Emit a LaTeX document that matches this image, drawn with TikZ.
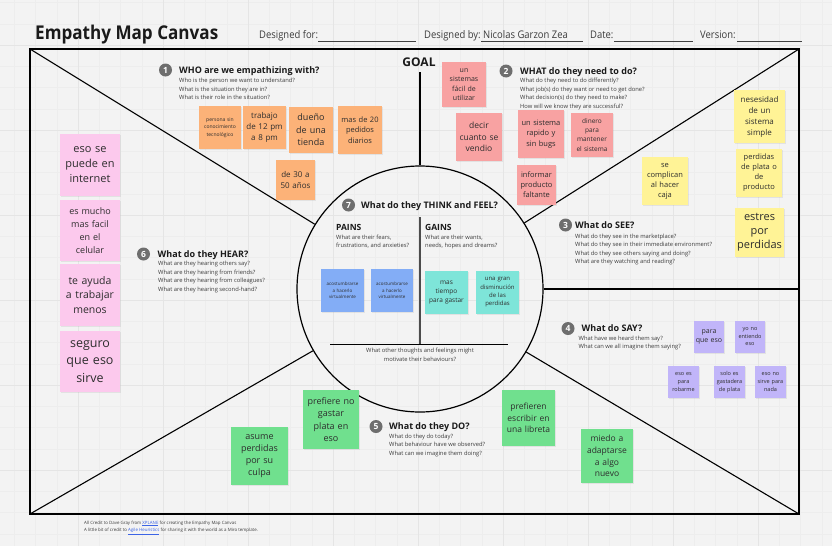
\documentclass[tikz,border=0pt]{standalone}
\usepackage{fontspec}
\setmainfont{Open Sans}
\newfontfamily\condfont[FakeStretch=0.9]{Open Sans}
\usetikzlibrary{shadows}
\definecolor{bgc}{RGB}{243,243,243}
\definecolor{gridminor}{RGB}{237,237,237}
\definecolor{gridmajor}{RGB}{229,229,229}
\definecolor{titlec}{RGB}{26,26,26}
\definecolor{subc}{RGB}{60,60,60}
\definecolor{notetext}{RGB}{45,45,45}
\definecolor{badgec}{RGB}{110,110,110}
\definecolor{linkc}{RGB}{60,100,230}
\definecolor{cOrange}{RGB}{252,178,120}
\definecolor{cRed}{RGB}{248,162,162}
\definecolor{cYellow}{RGB}{255,243,150}
\definecolor{cPurple}{RGB}{193,181,249}
\definecolor{cGreen}{RGB}{112,224,142}
\definecolor{cPink}{RGB}{252,201,237}
\definecolor{cBlue}{RGB}{131,173,246}
\definecolor{cTeal}{RGB}{126,229,217}
\begin{document}
\begin{tikzpicture}[x=1pt,y=-1pt,
  frameline/.style={line width=1.3pt, black},
  diag/.style={line width=1.1pt, black},
  minorgrid/.style={gridminor, line width=0.5pt},
  majorgrid/.style={gridmajor, line width=0.7pt},
  fieldline/.style={line width=0.7pt, black!75},
  headtitle/.style={anchor=base west, inner sep=0pt, text=titlec, font=\condfont\fontsize{19}{19}\selectfont\bfseries},
  headtext/.style={anchor=base west, inner sep=0pt, text=titlec!85, font=\condfont\fontsize{10.5}{10.5}\selectfont},
  goaltext/.style={inner sep=0pt, text=titlec, font=\fontsize{12}{12}\selectfont\bfseries},
  badge/.style={circle, fill=badgec, text=white, inner sep=0pt, minimum size=13pt, font=\fontsize{8.5}{8.5}\selectfont\bfseries},
  sectitle/.style={anchor=base west, inner sep=0pt, text=titlec, font=\fontsize{9}{9}\selectfont\bfseries},
  pgtitle/.style={anchor=base west, inner sep=0pt, text=titlec, font=\fontsize{8.5}{8.5}\selectfont\bfseries},
  secsub/.style={anchor=north west, inner sep=0pt, align=left, text=subc, font=\fontsize{5.8}{8.4}\selectfont},
  footer/.style={anchor=north west, inner sep=0pt, align=left, text=subc, font=\fontsize{4.4}{7.2}\selectfont},
  fs/.style 2 args={font=\fontsize{#1}{#2}\selectfont},
  sz/.style 2 args={minimum width=#1pt, minimum height=#2pt, text width=#1pt},
  sticky/.style={rectangle, inner sep=0pt, align=center, text=notetext,
     drop shadow={shadow xshift=0.6pt, shadow yshift=-0.9pt, opacity=0.14}},
  onote/.style={sticky, fill=cOrange},
  rnote/.style={sticky, fill=cRed},
  ynote/.style={sticky, fill=cYellow},
  pnote/.style={sticky, fill=cPurple},
  gnote/.style={sticky, fill=cGreen},
  knote/.style={sticky, fill=cPink},
  bnote/.style={sticky, fill=cBlue},
  tnote/.style={sticky, fill=cTeal}]
\useasboundingbox (0,0) rectangle (832,546);
\fill[bgc] (0,0) rectangle (832,546);
% grid
\foreach \i in {0,...,39} \draw[minorgrid] ({14.25+21.25*\i},0) -- ++(0,546);
\foreach \i in {0,...,25} \draw[minorgrid] (0,{2.5+21.25*\i}) -- ++(832,0);
\foreach \i in {0,...,9} \draw[majorgrid] ({78+85*\i},0) -- ++(0,546);
\foreach \i in {0,...,6} \draw[majorgrid] (0,{45+85*\i}) -- ++(832,0);

% header
\node[headtitle] (title) at (35,39) {Empathy Map Canvas};
\node[headtext] (dfor) at (259,38.5) {Designed for:};
\node[headtext] (dby) at (424,38.5) {Designed by:};
\node[headtext] (dname) at (483,38.5) {Nicolas Garzon Zea};
\node[headtext] (ddate) at (590,38.5) {Date:};
\node[headtext] (dver) at (700,38.5) {Version:};
\draw[fieldline] (318,41.5) -- (416,41.5);
\draw[fieldline] (481,41.5) -- (583,41.5);
\draw[fieldline] (614,41.5) -- (693,41.5);
\draw[fieldline] (737,41.5) -- (802,41.5);

% frame and structure
\coordinate (ctl) at (30,49);
\coordinate (ctr) at (799,49);
\coordinate (cbl) at (30,514);
\coordinate (cbr) at (799,514);
\coordinate (rmid) at (799,289);
\coordinate (goalfoot) at (420,72);
\draw[frameline] (ctl) rectangle (cbr);
\node[circle, draw, line width=1.2pt, inner sep=0pt, minimum size=246pt] (head) at (420,289) {};
\draw[diag] (head) -- (ctl);
\draw[diag] (head) -- (ctr);
\draw[diag] (head) -- (cbl);
\draw[diag] (head) -- (cbr);
\draw[diag] (head.east) -- (rmid);
\node[goaltext] (goal) at (419,62) {GOAL};
\draw[diag] (goalfoot) -- (head.north);

% inside head
\coordinate (vtop) at (420,217);
\coordinate (vbot) at (420,344);
\coordinate (hleft) at (330,344);
\coordinate (hright) at (508,344);
\draw[line width=1.4pt, black!70] (vtop) -- (vbot);
\draw[line width=1pt, black] (hleft) -- (hright);
\node[badge] (b7) at (348.5,205) {7};
\node[sectitle] (t7) at (361,208.2) {What do they THINK and FEEL?};
\node[pgtitle] (pains) at (336,230) {PAINS};
\node[secsub] (painsq) at (336,234.5) {What are their fears,\\frustrations, and anxieties?};
\node[pgtitle] (gains) at (425,230) {GAINS};
\node[secsub] (gainsq) at (425,234.5) {What are their wants,\\needs, hopes and dreams?};
\node[secsub, anchor=north, align=center] (other) at (420,348.2) {What other thoughts and feelings might\\motivate their behaviours?};

% section 1
\node[badge] (b1) at (165.5,70) {1};
\node[sectitle] (t1) at (179,73.2) {WHO are we empathizing with?};
\node[secsub] (s1) at (179,78.2) {Who is the person we want to understand?\\What is the situation they are in?\\What is their role in the situation?};
% section 2
\node[badge] (b2) at (506,71) {2};
\node[sectitle] (t2) at (520,74.2) {WHAT do they need to do?};
\node[secsub] (s2) at (520,78.2) {What do they need to do differently?\\What job(s) do they want or need to get done?\\What decision(s) do they need to make?\\How will we know they are successful?};
% section 3
\node[badge] (b3) at (565.5,225) {3};
\node[sectitle] (t3) at (575,228.2) {What do SEE?};
\node[secsub] (s3) at (575,233.9) {What do they see in the marketplace?\\What do they see in their immediate environment?\\What do they see others saying and doing?\\What are they watching and reading?};
% section 4
\node[badge] (b4) at (568,328.5) {4};
\node[sectitle] (t4) at (581.5,331.7) {What do SAY?};
\node[secsub] (s4) at (578.5,335.5) {What have we heard them say?\\What can we all imagine them saying?};
% section 5
\node[badge] (b5) at (376,426.5) {5};
\node[sectitle] (t5) at (389,429.7) {What do they DO?};
\node[secsub] (s5) at (389,433.9) {What do they do today?\\What behaviour have we observed?\\What can we imagine them doing?};
% section 6
\node[badge] (b6) at (143.5,254) {6};
\node[sectitle] (t6) at (157.5,257.2) {What do they HEAR?};
\node[secsub] (s6) at (158,261.2) {What are they hearing others say?\\What are they hearing from friends?\\What are they hearing from colleagues?\\What are they hearing second-hand?};

% orange notes
\node[onote, sz={42}{43}, fs={5}{7.5}] (n1) at (220,127.5) {persona sin\\conocimiento\\tecnológico};
\node[onote, sz={43}{43}, fs={8}{10.8}] (n2) at (264.5,127.5) {trabajo\\de 12 pm\\a 8 pm};
\node[onote, sz={44}{46}, fs={9}{12.5}] (n3) at (311,130) {dueño\\de una\\tienda};
\node[onote, sz={44}{48}, fs={7.5}{10.5}] (n4) at (360,130) {mas de 20\\pedidos\\diarios};
\node[onote, sz={39}{40}, fs={8}{11}] (n5) at (295.5,180) {de 30 a\\50 años};
% red notes
\node[rnote, sz={44}{45}, fs={7}{9.5}] (r1) at (464,84.5) {un\\sistemas\\fácil de\\utilizar};
\node[rnote, sz={46}{48}, fs={8.5}{11.7}] (r2) at (479,137) {decir\\cuanto se\\vendio};
\node[rnote, sz={46}{48}, fs={7.5}{10.3}] (r3) at (541,134) {un sistema\\rapido y\\sin bugs};
\node[rnote, sz={42}{44}, fs={6.5}{9.1}] (r4) at (592,135) {dinero\\para\\mantener\\el sistema};
\node[rnote, sz={39}{40}, fs={7.5}{10}] (r5) at (536.5,185) {informar\\producto\\faltante};
% yellow notes
\node[ynote, sz={51}{53}, fs={8}{11}] (y1) at (759.5,116.5) {nesesidad\\de un\\sistema\\simple};
\node[ynote, sz={46}{48}, fs={7.5}{10}] (y2) at (759,173) {perdidas\\de plata o\\de\\producto};
\node[ynote, sz={49}{49}, fs={11}{14}] (y3) at (759.5,232.5) {estres\\por\\perdidas};
\node[ynote, sz={46}{48}, fs={7.5}{10}] (y4) at (665,181) {se\\complican\\al hacer\\caja};
% purple notes
\node[pnote, sz={30}{32}, fs={7}{9.7}] (p1) at (709,337) {para\\que eso};
\node[pnote, sz={30}{32}, fs={5.5}{7.5}] (p2) at (750,337) {yo no\\entiendo\\eso};
\node[pnote, sz={31}{32}, fs={5.5}{8.3}] (p3) at (683.5,382) {eso es\\para\\robarme};
\node[pnote, sz={31}{32}, fs={5.5}{8.3}] (p4) at (729.5,382) {solo es\\gastadera\\de plata};
\node[pnote, sz={31}{32}, fs={5.5}{8.3}] (p5) at (770.5,382) {eso no\\sirve para\\nada};
% green notes
\node[gnote, sz={57}{58}, fs={9}{12.2}] (g1) at (259.5,456) {asume\\perdidas\\por su\\culpa};
\node[gnote, sz={56}{59}, fs={9}{12.2}] (g2) at (331,419.5) {prefiere no\\gastar\\plata en\\eso};
\node[gnote, sz={53}{56}, fs={8.5}{11.7}] (g3) at (528.5,418) {prefieren\\escribir en\\una libreta};
\node[gnote, sz={52}{54}, fs={8.5}{11.7}] (g4) at (607,456) {miedo a\\adaptarse\\a algo\\nuevo};
% pink notes
\node[knote, sz={60}{62}, fs={11}{15}] (k1) at (90,165) {eso se\\puede en\\internet};
\node[knote, sz={60}{61}, fs={9}{12.8}] (k2) at (90,230.5) {es mucho\\mas facil\\en el\\celular};
\node[knote, sz={60}{62}, fs={10.5}{14.3}] (k3) at (90,295) {te ayuda\\a trabajar\\menos};
\node[knote, sz={60}{61}, fs={12.5}{17.7}] (k4) at (90,361.5) {seguro\\que eso\\sirve};
% blue and teal notes
\node[bnote, sz={43}{43}, fs={4.5}{6.5}] (bl1) at (342.5,290.5) {acostumbrarse\\a hacerlo\\virtualmente};
\node[bnote, sz={42}{43}, fs={4.5}{6.5}] (bl2) at (392,290.5) {acostumbrarse\\a hacerlo\\virtualmente};
\node[tnote, sz={43}{43}, fs={6.5}{9.2}] (te1) at (446.5,292.5) {mas\\tiempo\\para gastar};
\node[tnote, sz={43}{43}, fs={6}{8.3}] (te2) at (497.5,292.5) {una gran\\disminución\\de las\\perdidas};

% footer
\node[footer] (foot) at (84,520.5) {All Credit to Dave Gray from {\color{linkc}\underline{XPLANE}} for creating the Empathy Map Canvas\\A little bit of credit to {\color{linkc}\underline{Agile Heuristics}} for sharing it with the world as a Miro template.};
\end{tikzpicture}
\end{document}
